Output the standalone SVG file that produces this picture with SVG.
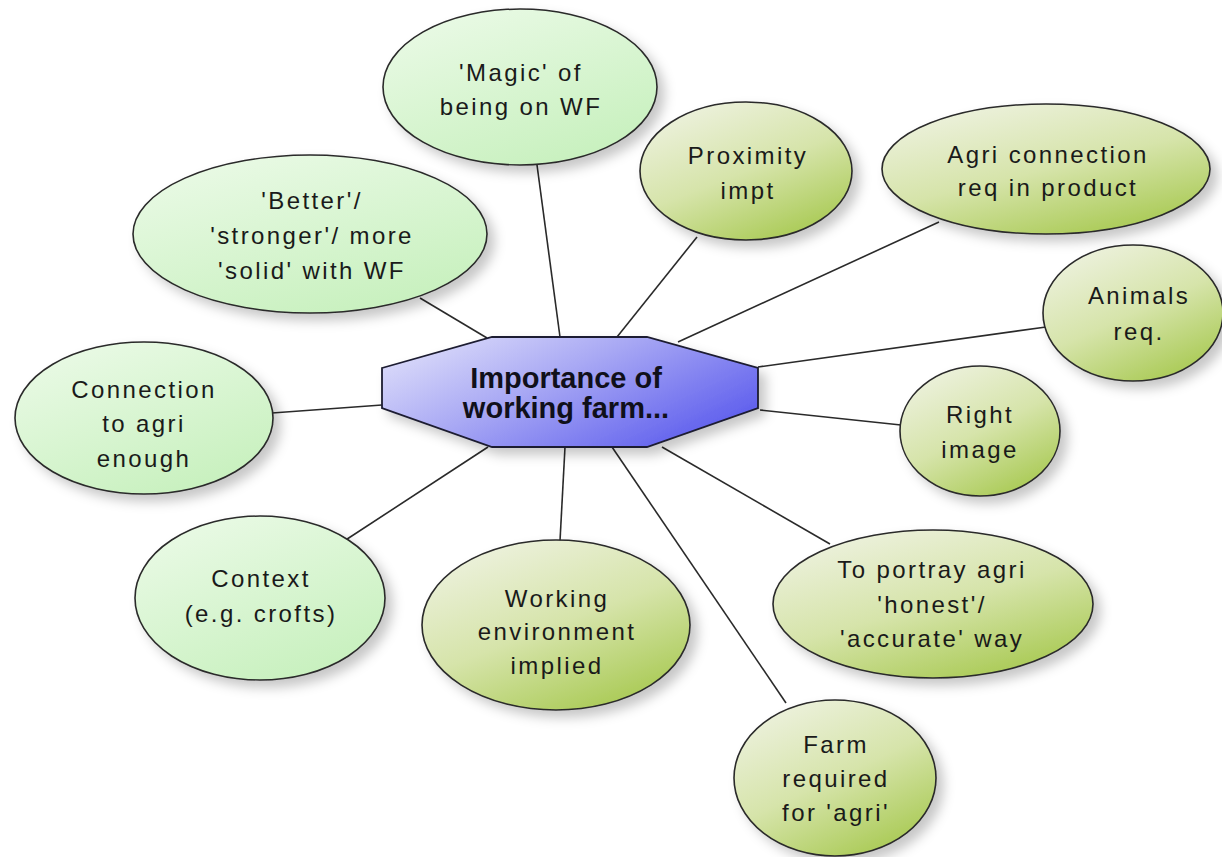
<svg xmlns="http://www.w3.org/2000/svg" width="1222" height="857" viewBox="0 0 1222 857">
<defs>
<linearGradient id="gMint" x1="0.2" y1="0" x2="0.8" y2="1">
<stop offset="0" stop-color="#eafae6"/>
<stop offset="1" stop-color="#c6f0bc"/>
</linearGradient>
<linearGradient id="gOlive" x1="0.2" y1="0" x2="0.8" y2="1">
<stop offset="0" stop-color="#eef2e0"/>
<stop offset="0.5" stop-color="#d6e4aa"/>
<stop offset="1" stop-color="#a6c84e"/>
</linearGradient>
<linearGradient id="gBlue" x1="0" y1="0" x2="1" y2="0.6">
<stop offset="0" stop-color="#e6e6fb"/>
<stop offset="0.5" stop-color="#a8a8f4"/>
<stop offset="1" stop-color="#6464ee"/>
</linearGradient>
<filter id="sh" x="-20%" y="-20%" width="150%" height="150%">
<feDropShadow dx="7" dy="7" stdDeviation="6" flood-color="#000" flood-opacity="0.22"/>
</filter>
<style>
.conn line{stroke:#2a2a2a;stroke-width:1.6}
.mint{fill:url(#gMint);stroke:#2a2a2a;stroke-width:1.6;filter:url(#sh)}
.olive{fill:url(#gOlive);stroke:#2a2a2a;stroke-width:1.6;filter:url(#sh)}
.t{font-family:"Liberation Sans",Arial,sans-serif;font-size:24px;letter-spacing:2.4px;fill:#1a1a1a;text-anchor:middle}
.tc{font-family:"Liberation Sans",Arial,sans-serif;font-size:29px;font-weight:bold;fill:#10101a;text-anchor:middle}
</style>
</defs>
<rect width="1222" height="857" fill="#ffffff"/>
<g id="connectors" class="conn">
<line x1="537" y1="165" x2="560" y2="337"/>
<line x1="697" y1="237" x2="617" y2="337"/>
<line x1="939" y1="222" x2="678" y2="342"/>
<line x1="420" y1="298" x2="487" y2="338"/>
<line x1="1046" y1="327" x2="758" y2="367"/>
<line x1="272" y1="413" x2="382" y2="405"/>
<line x1="901" y1="425" x2="760" y2="410"/>
<line x1="338" y1="545" x2="488" y2="447"/>
<line x1="560" y1="541" x2="565" y2="447"/>
<line x1="830" y1="544" x2="662" y2="447"/>
<line x1="786" y1="703" x2="612" y2="447"/>
</g>
<g id="center">
<polygon points="382,368 492,337 647,337 758,368 758,408 647,447 492,447 382,408" fill="url(#gBlue)" stroke="#1c1c30" stroke-width="1.8" filter="url(#sh)"/>
<text class="tc"><tspan x="566" y="388">Importance of</tspan><tspan x="566" y="418">working farm...</tspan></text>
</g>
<g id="magic">
<ellipse class="mint" cx="520" cy="87" rx="137" ry="78"/>
<text class="t" x="521" y="81">'Magic' of</text>
<text class="t" x="521" y="115">being on WF</text>
</g>
<g id="proximity">
<ellipse class="olive" cx="746" cy="171" rx="106" ry="69"/>
<text class="t" x="748" y="164">Proximity</text>
<text class="t" x="748" y="199">impt</text>
</g>
<g id="agri">
<ellipse class="olive" cx="1046" cy="169" rx="164" ry="65"/>
<text class="t" x="1048" y="163">Agri connection</text>
<text class="t" x="1048" y="196">req in product</text>
</g>
<g id="better">
<ellipse class="mint" cx="310" cy="234" rx="177" ry="79"/>
<text class="t" x="312" y="209">'Better'/</text>
<text class="t" x="312" y="244">'stronger'/ more</text>
<text class="t" x="312" y="279">'solid' with WF</text>
</g>
<g id="animals">
<ellipse class="olive" cx="1133" cy="313" rx="90" ry="68"/>
<text class="t" x="1139" y="304">Animals</text>
<text class="t" x="1139" y="340">req.</text>
</g>
<g id="connection">
<ellipse class="mint" cx="144" cy="418" rx="129" ry="76"/>
<text class="t" x="144" y="398">Connection</text>
<text class="t" x="144" y="432">to agri</text>
<text class="t" x="144" y="467">enough</text>
</g>
<g id="right">
<ellipse class="olive" cx="980" cy="431" rx="80" ry="65"/>
<text class="t" x="980" y="423">Right</text>
<text class="t" x="980" y="458">image</text>
</g>
<g id="context">
<ellipse class="mint" cx="260" cy="598" rx="125" ry="82"/>
<text class="t" x="261" y="587">Context</text>
<text class="t" x="261" y="622">(e.g. crofts)</text>
</g>
<g id="working">
<ellipse class="olive" cx="556" cy="625" rx="134" ry="85"/>
<text class="t" x="557" y="607">Working</text>
<text class="t" x="557" y="640">environment</text>
<text class="t" x="557" y="674">implied</text>
</g>
<g id="portray">
<ellipse class="olive" cx="933" cy="604" rx="160" ry="74"/>
<text class="t" x="932" y="578">To portray agri</text>
<text class="t" x="932" y="613">'honest'/</text>
<text class="t" x="932" y="647">'accurate' way</text>
</g>
<g id="farm">
<ellipse class="olive" cx="835" cy="778" rx="101" ry="78"/>
<text class="t" x="836" y="753">Farm</text>
<text class="t" x="836" y="787">required</text>
<text class="t" x="836" y="821">for 'agri'</text>
</g>
</svg>
